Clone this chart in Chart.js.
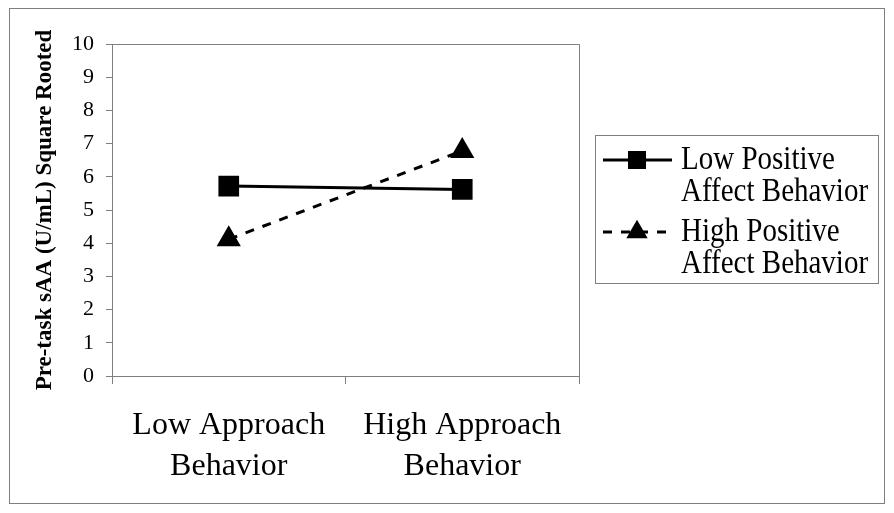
<!DOCTYPE html>
<html><head><meta charset="utf-8">
<script src="https://cdn.jsdelivr.net/npm/chart.js@4/dist/chart.umd.min.js"></script>
<style>html,body{margin:0;padding:0;background:#fff}#wrap{width:894px;height:513px}</style>
</head><body><div id="wrap"><canvas id="c" width="894" height="513"></canvas></div>
<script>
const categories = [['Low Approach','Behavior'], ['High Approach','Behavior']];
const seriesNames = [['Low Positive','Affect Behavior'], ['High Positive','Affect Behavior']];
const lowPositive = [5.72, 5.62];
const highPositive = [4.12, 6.78];
const yTicks = [0,1,2,3,4,5,6,7,8,9,10];
const yTitle = 'Pre-task sAA (U/mL) Square Rooted';

const FONT = '"Liberation Serif", "Times New Roman", serif';

const frame = {
  id: 'frame',
  beforeDraw(chart) {
    const ctx = chart.ctx, a = chart.chartArea;
    ctx.save();
    ctx.fillStyle = '#fff';
    ctx.fillRect(0,0,chart.width,chart.height);
    ctx.strokeStyle = '#7f7f7f';
    ctx.lineWidth = 1;
    ctx.strokeRect(9.5, 8.5, 875, 495);
    ctx.beginPath();
    ctx.moveTo(a.left, a.top + 0.5);
    ctx.lineTo(a.right + 0.5, a.top + 0.5);
    ctx.lineTo(a.right + 0.5, a.bottom);
    ctx.stroke();
    ctx.restore();
  },
  afterDraw(chart) {
    const ctx = chart.ctx;
    ctx.save();
    const bx = 595.5, by = 135.5, bw = 283, bh = 148;
    ctx.strokeStyle = '#7f7f7f';
    ctx.lineWidth = 1;
    ctx.strokeRect(bx, by, bw, bh);
    const rows = [160, 232];
    chart.data.datasets.forEach((ds, i) => {
      const y = rows[i];
      ctx.strokeStyle = '#000';
      ctx.lineWidth = 3;
      ctx.setLineDash(ds.borderDash || []);
      ctx.beginPath();
      ctx.moveTo(603, y);
      ctx.lineTo(672, y);
      ctx.stroke();
      ctx.setLineDash([]);
      Chart.helpers.drawPoint(ctx, {pointStyle: ds.pointStyle, radius: ds.pointRadius * 0.85, borderWidth: 1}, 637, y);
      ctx.fillStyle = '#000';
      ctx.fill();
      const lines = seriesNames[i];
      lines.forEach((t, k) => {
        ctx.save();
        ctx.translate(681, y + k * 32);
        ctx.scale(1, 1.15);
        ctx.font = '29px ' + FONT;
        ctx.fillStyle = '#000';
        ctx.textBaseline = 'middle';
        ctx.fillText(t, 0, 0);
        ctx.restore();
      });
    });
    ctx.restore();
  }
};

new Chart(document.getElementById('c'), {
  type: 'line',
  data: {
    labels: categories,
    datasets: [
      { label: seriesNames[0].join(' '), data: lowPositive, borderColor: '#000', backgroundColor: '#000',
        borderWidth: 3, pointStyle: 'rect', pointRadius: 12.5, pointBackgroundColor: '#000', pointBorderColor: '#000', tension: 0 },
      { label: seriesNames[1].join(' '), data: highPositive, borderColor: '#000', backgroundColor: '#000',
        borderWidth: 3, borderDash: [9, 9], pointStyle: 'triangle', pointRadius: 11, pointBackgroundColor: '#000', pointBorderColor: '#000', tension: 0 }
    ]
  },
  options: {
    responsive: false,
    animation: false,
    devicePixelRatio: 1,
    layout: { padding: { left: 10, top: 44, right: 315, bottom: 10 } },
    plugins: { legend: { display: false }, tooltip: { enabled: false } },
    scales: {
      x: {
        type: 'category',
        offset: true,
        grid: { offset: true, drawOnChartArea: false, tickLength: 8, color: '#7f7f7f', lineWidth: 1 },
        border: { color: '#7f7f7f', width: 1 },
        ticks: { color: '#000', font: { family: FONT, size: 32, lineHeight: 1.28 }, padding: 21, maxRotation: 0, autoSkip: false },
        afterFit(s) { s.height = 127; }
      },
      y: {
        min: 0, max: 10,
        afterBuildTicks(s) { s.ticks = yTicks.map(v => ({ value: v })); },
        grid: { drawOnChartArea: false, tickLength: 6, color: '#7f7f7f', lineWidth: 1 },
        border: { color: '#7f7f7f', width: 1 },
        ticks: { color: '#000', font: { family: FONT, size: 22 }, padding: 12 },
        title: { display: true, text: yTitle, color: '#000', font: { family: FONT, size: 23, weight: 'bold' }, padding: { top: 21, bottom: 0 } },
        afterFit(s) { s.width = 102; }
      }
    }
  },
  plugins: [frame]
});
</script>
</body></html>
